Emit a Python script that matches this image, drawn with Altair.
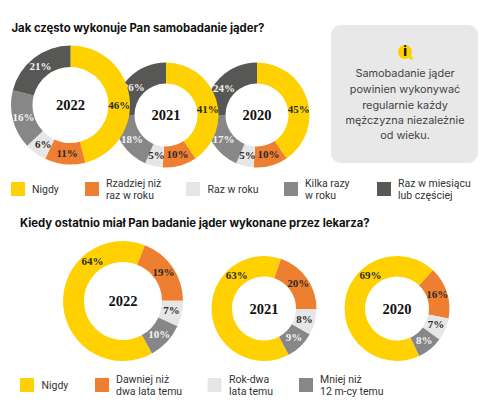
import altair as alt
import pandas as pd
import math

TOP_CATS = ["Nigdy", "Rzadziej niż raz w roku", "Raz w roku", "Kilka razy w roku", "Raz w miesiącu lub częściej"]
# printed percentages
TOP_VALUES = {"2022": [46, 11, 6, 16, 21], "2021": [41, 10, 5, 18, 26], "2020": [45, 10, 5, 17, 24]}
# slice sizes as drawn in the picture (the 2020 ring is drawn with other proportions than it prints)
TOP_DRAWN = {"2022": [46, 11, 6, 16, 21], "2021": [40.5, 10.5, 5.5, 18.5, 25], "2020": [40.5, 10.5, 5.5, 18.5, 25]}
BOT_CATS = ["Nigdy", "Dawniej niż dwa lata temu", "Rok-dwa lata temu", "Mniej niż 12 m-cy temu"]
BOT_VALUES = {"2022": [64, 19, 7, 10], "2021": [63, 20, 8, 9], "2020": [69, 16, 7, 8]}
TITLE_TOP = "Jak często wykonuje Pan samobadanie jąder?"
TITLE_BOT = "Kiedy ostatnio miał Pan badanie jąder wykonane przez lekarza?"
INFO_LINES = ["Samobadanie jąder", "powinien wykonywać", "regularnie każdy", "mężczyzna niezależnie", "od wieku."]

# where each percentage sits around its ring, degrees clockwise from the top
TOP_LABEL_DEG = {"2022": [91, 184, 214, 255, 322], "2021": [83, 164, 193, 234, 310], "2020": [83, 164, 193, 233, 308]}
BOT_LABEL_DEG = {"2022": [322, 55, 102, 133], "2021": [320, 54, 106, 135], "2020": [321, 72, 113, 140]}

COLORS = {"Nigdy": "#FFD100", "Rzadziej niż raz w roku": "#EE7F31", "Raz w roku": "#E6E6E6",
          "Kilka razy w roku": "#878787", "Raz w miesiącu lub częściej": "#575756",
          "Dawniej niż dwa lata temu": "#EE7F31", "Rok-dwa lata temu": "#E6E6E6", "Mniej niż 12 m-cy temu": "#878787"}
LIGHT_TEXT = ["Kilka razy w roku", "Raz w miesiącu lub częściej", "Mniej niż 12 m-cy temu"]
color_scale = alt.Scale(domain=list(COLORS), range=list(COLORS.values()))
NARROW = "Liberation Sans Narrow"
DIN = "Roboto"

OX, OY = 8, 8
def X(p): return p - OX
def Y(p): return p - OY

def donut(year, cats, drawn, printed, degs, cx, cy, R, r, start_deg):
    s = math.radians(start_deg)
    df = pd.DataFrame({"cat": cats, "v": drawn, "i": list(range(len(cats)))})
    arc = alt.Chart(df).mark_arc(radius=R, radius2=r).encode(
        theta=alt.Theta("v:Q", stack=True, scale=alt.Scale(domain=[0, sum(drawn)], range=[s, s + 2 * math.pi])),
        order=alt.Order("i:Q"), x=alt.value(X(cx)), y=alt.value(Y(cy)),
        color=alt.Color("cat:N", scale=color_scale, legend=None))
    ldf = pd.DataFrame({"cat": cats, "t": [f"{p}%" for p in printed], "deg": degs})
    lab = alt.Chart(ldf).mark_text(radius=(R + r) / 2, font=NARROW, fontSize=11, fontWeight=700).encode(
        theta=alt.Theta("deg:Q", stack=None, scale=alt.Scale(domain=[0, 360], range=[0, 2 * math.pi])),
        x=alt.value(X(cx)), y=alt.value(Y(cy)), text="t:N",
        color=alt.condition(alt.FieldOneOfPredicate(field="cat", oneOf=LIGHT_TEXT), alt.value("#f4f4f4"), alt.value("#2a2a2a")))
    yr = label(year, cx, cy + 1, size=14.5, font=NARROW, weight=700, color="#111111", align="center")
    return [arc, lab, yr]

def label(txt, px, py, size=10.5, font=DIN, weight=400, color="#333333", align="left"):
    return alt.Chart(pd.DataFrame({"t": [txt]})).mark_text(
        font=font, fontSize=size, fontWeight=weight, color=color, align=align, baseline="middle"
    ).encode(text="t:N", x=alt.value(X(px)), y=alt.value(Y(py)))

def legend_item(cat, sx, sy, lines, tx):
    sw = alt.Chart(pd.DataFrame({"cat": [cat]})).mark_square(size=196, opacity=1).encode(
        x=alt.value(X(sx)), y=alt.value(Y(sy)), color=alt.Color("cat:N", scale=color_scale, legend=None))
    out = [sw]
    if len(lines) == 1:
        out.append(label(lines[0], tx, sy + 1))
    else:
        out.append(label(lines[0], tx, sy - 5))
        out.append(label(lines[1], tx, sy + 7))
    return out

layers = []
for y, cx, cy, R, r in [("2020", 257, 115, 52.5, 31.5), ("2021", 166, 115, 52.5, 31.5), ("2022", 70.5, 105, 59.5, 38)]:
    layers += donut(y, TOP_CATS, TOP_DRAWN[y], TOP_VALUES[y], TOP_LABEL_DEG[y], cx, cy, R, r, 0)
for y, cx, cy, R, r, s in [("2022", 123, 301, 60, 39, 151), ("2021", 264, 308.5, 52.5, 32, 152), ("2020", 397, 308.5, 52.5, 32, 155)]:
    layers += donut(y, BOT_CATS, BOT_VALUES[y], BOT_VALUES[y], BOT_LABEL_DEG[y], cx, cy, R, r, s)

layers.append(label(TITLE_TOP, 11.5, 29, size=11.3, font="Inter", weight=700, color="#111111"))
layers.append(label(TITLE_BOT, 20, 224, size=11.3, font="Inter", weight=700, color="#111111"))

layers += legend_item(TOP_CATS[0], 18, 189, ["Nigdy"], 32)
layers += legend_item(TOP_CATS[1], 92, 189, ["Rzadziej niż", "raz w roku"], 106)
layers += legend_item(TOP_CATS[2], 193, 189, ["Raz w roku"], 207.5)
layers += legend_item(TOP_CATS[3], 291, 189, ["Kilka razy", "w roku"], 305)
layers += legend_item(TOP_CATS[4], 384, 189, ["Raz w miesiącu", "lub częściej"], 398)

layers += legend_item(BOT_CATS[0], 27, 385, ["Nigdy"], 41.5)
layers += legend_item(BOT_CATS[1], 102, 385, ["Dawniej niż", "dwa lata temu"], 116)
layers += legend_item(BOT_CATS[2], 214.5, 385, ["Rok-dwa", "lata temu"], 229)
layers += legend_item(BOT_CATS[3], 306, 385, ["Mniej niż", "12 m-cy temu"], 320)

layers.append(alt.Chart(pd.DataFrame({"a": [1]})).mark_rect(color="#E8E8E8", cornerRadius=10).encode(
    x=alt.value(X(331)), x2=alt.value(X(478)), y=alt.value(Y(25)), y2=alt.value(Y(163))))
layers.append(alt.Chart(pd.DataFrame({"a": [1]})).mark_circle(size=200, color="#FFD100", opacity=1).encode(
    x=alt.value(X(405)), y=alt.value(Y(52))))
layers.append(alt.Chart(pd.DataFrame({"a": [1]})).mark_square(size=10, color="#FFD100", opacity=1).encode(
    x=alt.value(X(411)), y=alt.value(Y(58))))
layers.append(label("i", 405, 52, size=13, font="Inter", weight=800, color="#111111", align="center"))
for line, py in zip(INFO_LINES, [74, 90, 105.5, 121, 136]):
    layers.append(label(line, 405, py, size=10.9, font="Inter", color="#444444", align="center"))

chart = alt.layer(*layers).resolve_scale(theta="independent").properties(
    width=484, height=392, padding=0, background="#ffffff",
    autosize=alt.AutoSizeParams(type="none"),
).configure_view(stroke=None)
chart.save("out.html", embed_options={"renderer": "svg", "actions": False})
